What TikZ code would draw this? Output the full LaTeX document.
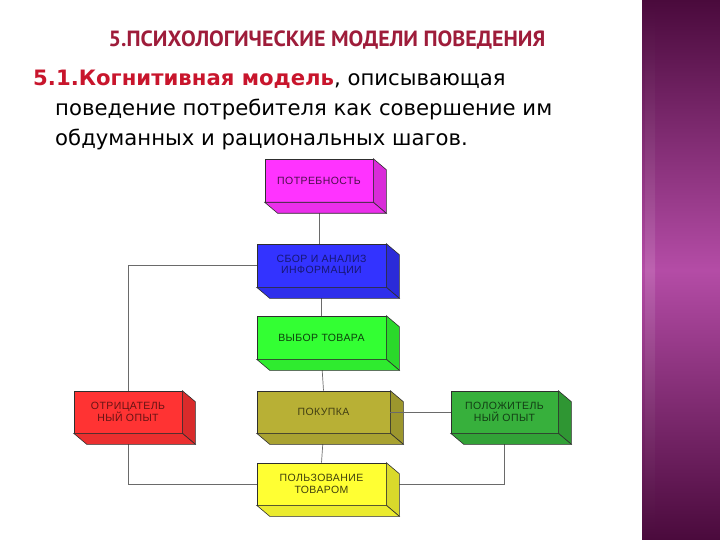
\documentclass[tikz,border=0pt]{standalone}
\usepackage{fontspec}
\usepackage{xcolor}
\usepackage{tikz}
\usetikzlibrary{calc,positioning,backgrounds}
\setmainfont{DejaVu Sans}
\newfontfamily\headfont{PT Sans}
\newfontfamily\boxfont[LetterSpace=4]{Liberation Sans}
\definecolor{headred}{HTML}{9E1C3A}
\definecolor{leadred}{HTML}{C8152C}
\definecolor{linegray}{HTML}{6A6A6A}
\definecolor{edgegray}{HTML}{2E2E2E}
\definecolor{bandtop}{HTML}{4A0A3C}
\definecolor{bandmid}{HTML}{B44CA6}
\definecolor{cneed}{HTML}{FF33FF}
\definecolor{cinfo}{HTML}{3333FF}
\definecolor{cchoice}{HTML}{33FF33}
\definecolor{cbuy}{HTML}{B8B035}
\definecolor{cuse}{HTML}{FFFF33}
\definecolor{cneg}{HTML}{FF3333}
\definecolor{cpos}{HTML}{37B03C}
\tikzset{
  block/.style={draw=edgegray, line width=0.6pt, align=center, inner sep=2pt,
    font=\boxfont\fontsize{10.5}{11.5}\selectfont, minimum height=43pt},
  link/.style={draw=linegray, line width=0.7pt},
  heading/.style={font=\headfont\bfseries\fontsize{22}{24}\selectfont, text=headred},
  bodytext/.style={anchor=base west, inner sep=0pt, font=\fontsize{21.2}{23}\selectfont}
}
% side and bottom faces of a box
\newcommand{\boxsides}[2]{%
  \fill[#2!85!black, draw=edgegray, line width=0.6pt] (#1.north east) -- ++(13,11)
    -- ($(#1.south east)+(13,11)$) -- (#1.south east) -- cycle;
  \fill[#2!92!black, draw=edgegray, line width=0.6pt] (#1.south west) -- (#1.south east)
    -- ++(13,11) -- ($(#1.south west)+(13,11)$) -- cycle;
}

\begin{document}
\begin{tikzpicture}[x=1pt, y=-1pt]
  \useasboundingbox (0,0) rectangle (720,540);

  % purple band on the right
  \shade[top color=bandtop, bottom color=bandtop, middle color=bandmid] (642,0) rectangle (720,540);
  \shade[top color=bandtop, bottom color=bandtop, middle color=bandmid!80!white, opacity=0.6] (645,0) rectangle (655,540);

  \node[heading] (heading) at (327,40) {5.ПСИХОЛОГИЧЕСКИЕ МОДЕЛИ ПОВЕДЕНИЯ};
  \node[bodytext] (lead) at (33,86) {{\color{leadred}\bfseries 5.1.Когнитивная модель}, описывающая};
  \node[bodytext] (second) at (55,116) {поведение потребителя как совершение им};
  \node[bodytext] (third) at (55,146) {обдуманных и рациональных шагов.};

  \node[block, fill=cneed, text=cneed!30!black, minimum width=108pt] (need) at (319,180.5) {ПОТРЕБНОСТЬ};
  \node[block, fill=cinfo, text=cinfo!45!black, minimum width=129pt] (info) at (321.5,265.5) {СБОР И АНАЛИЗ\\ИНФОРМАЦИИ};
  \node[block, fill=cchoice, text=cchoice!25!black, minimum width=129pt] (choice) at (321.5,337.5) {ВЫБОР ТОВАРА};
  \node[block, fill=cbuy, text=cbuy!35!black, minimum width=133pt, minimum height=42pt] (buy) at (323.5,412) {ПОКУПКА};
  \node[block, fill=cuse, text=cuse!25!black, minimum width=129pt, minimum height=42pt] (use) at (321.5,484) {ПОЛЬЗОВАНИЕ\\ТОВАРОМ};
  \node[block, fill=cneg, text=cneg!40!black, minimum width=108pt, minimum height=42pt] (negative) at (128,412) {ОТРИЦАТЕЛЬ\\НЫЙ ОПЫТ};
  \node[block, fill=cpos, text=cpos!35!black, minimum width=107pt, minimum height=42pt] (positive) at (504.5,412) {ПОЛОЖИТЕЛЬ\\НЫЙ ОПЫТ};

  \boxsides{need}{cneed}
  \boxsides{info}{cinfo}
  \boxsides{choice}{cchoice}
  \boxsides{buy}{cbuy}
  \boxsides{use}{cuse}
  \boxsides{negative}{cneg}
  \boxsides{positive}{cpos}

  \begin{pgfonlayer}{background}
    \draw[link] (need.south) -- (need.south |- info.north);
    \draw[link] (info.south) -- (info.south |- choice.north);
    \draw[link] (choice.south) -- (buy.north);
    \draw[link] (buy.south) -- (use.north);
    \draw[link] (info.west) -| (negative.north);
    \draw[link] (negative.south) |- (use.west);
    \draw[link] (positive.south) |- (use.east);
  \end{pgfonlayer}
  \draw[link] (buy.east) -- (positive.west);
\end{tikzpicture}
\end{document}
